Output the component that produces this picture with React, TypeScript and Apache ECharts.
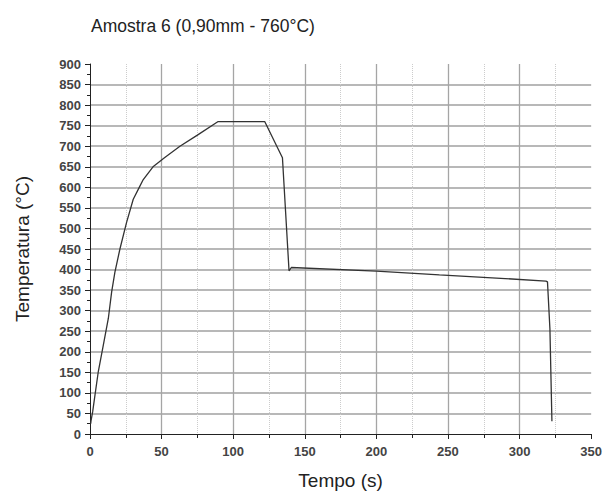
import React, { useEffect, useRef } from "react";
import * as echarts from "echarts";

const title = "Amostra 6 (0,90mm - 760°C)";
const xName = "Tempo (s)";
const yName = "Temperatura (°C)";
const timeS = [0.5, 0.7, 1.9, 3.5, 5.8, 9.3, 12.8, 15.1, 17.4, 20.9, 25.5, 30.2, 34.4, 37.2, 44, 52, 62.8, 75, 89.5, 122, 134.4, 139, 140.6, 200, 244, 290, 318.4, 319.5, 321.2, 322.6];
const tempC = [25, 32, 55, 95, 152, 216, 281, 345, 394, 450, 514, 571, 600, 619, 650, 672, 700, 727, 760, 760, 672, 397, 405, 396, 387, 378, 372, 370, 256, 31];

export default function App() {
  const ref = useRef<HTMLDivElement>(null);
  useEffect(() => {
    const chart = echarts.init(ref.current!, null, { renderer: "svg" });
    const font = "Arial, 'Liberation Sans', sans-serif";
    chart.setOption({
      animation: false,
      backgroundColor: "#fff",
      title: {
        text: title,
        left: 86,
        top: 12,
        textStyle: { fontFamily: font, fontSize: 17.5, fontWeight: "normal", color: "#222" },
      },
      grid: { left: 90, right: 13, top: 64, bottom: 59 },
      xAxis: {
        type: "value",
        min: 0,
        max: 350,
        interval: 50,
        name: xName,
        nameLocation: "middle",
        nameGap: 37,
        nameTextStyle: { fontFamily: font, fontSize: 19, color: "#222" },
        axisLine: { show: true, onZero: false, lineStyle: { color: "#222", width: 1 } },
        axisTick: { show: true, length: 5, lineStyle: { color: "#222" } },
        minorTick: { show: true, splitNumber: 2, length: 4, lineStyle: { color: "#222" } },
        axisLabel: { fontFamily: font, fontSize: 13, fontWeight: "bold", color: "#444", margin: 11 },
        splitLine: { show: true, showMinLine: false, showMaxLine: false, lineStyle: { color: "#a5a5a5", width: 1.3 } },
        minorSplitLine: { show: true, lineStyle: { color: "#ccc", width: 1, type: "dotted" } },
      },
      yAxis: {
        type: "value",
        min: 0,
        max: 900,
        interval: 50,
        name: yName,
        nameLocation: "middle",
        nameGap: 58,
        nameTextStyle: { fontFamily: font, fontSize: 19, color: "#222" },
        axisLine: { show: true, onZero: false, lineStyle: { color: "#222", width: 1 } },
        axisTick: { show: true, length: 5, lineStyle: { color: "#222" } },
        minorTick: { show: true, splitNumber: 2, length: 3, lineStyle: { color: "#222" } },
        axisLabel: { fontFamily: font, fontSize: 13, fontWeight: "bold", color: "#444", margin: 9 },
        splitLine: { show: true, showMinLine: false, showMaxLine: false, lineStyle: { color: "#a0a0a0", width: 1.6 } },
      },
      series: [
        {
          type: "line",
          data: timeS.map((t, i) => [t, tempC[i]]),
          symbol: "none",
          lineStyle: { color: "#333", width: 1.3 },
        },
      ],
    });
    return () => chart.dispose();
  }, []);
  return <div ref={ref} style={{ width: 605, height: 495, position: "absolute", left: 0, top: 0 }} />;
}
